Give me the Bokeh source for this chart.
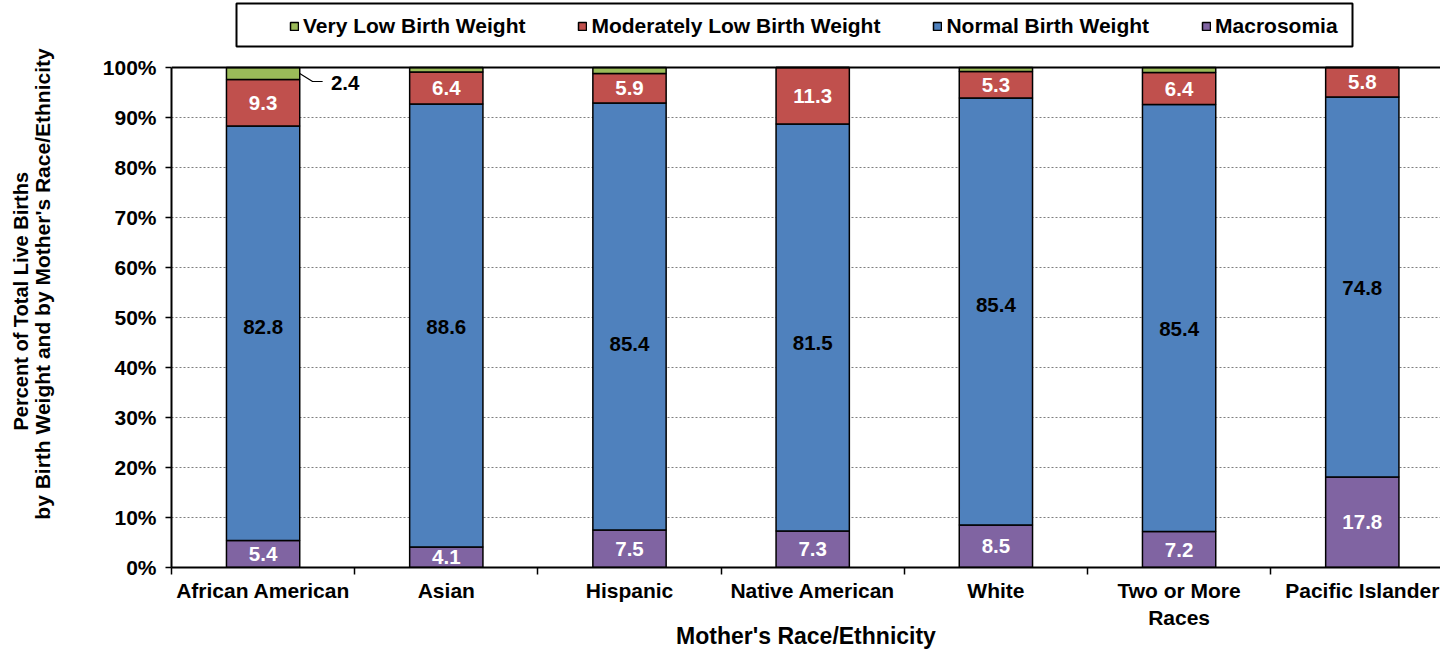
from bokeh.plotting import figure
from bokeh.models import (ColumnDataSource, FixedTicker, Range1d, Legend, LegendItem,
                          PrintfTickFormatter, Title, Span, BoxAnnotation)
from bokeh.core.properties import value
from bokeh.embed import file_html
from bokeh.resources import INLINE

# ---- data ----
categories = ["African American", "Asian", "Hispanic", "Native American",
              "White", "Two or More\nRaces", "Pacific Islander"]
macrosomia = [5.4, 4.1, 7.5, 7.3, 8.5, 7.2, 17.8]
normal_bw = [82.8, 88.6, 85.4, 81.5, 85.4, 85.4, 74.8]
moderately_low = [9.3, 6.4, 5.9, 11.3, 5.3, 6.4, 5.8]
very_low = [2.4, 0.9, 1.2, 0.0, 0.8, 1.0, 0.0]
series_names = ["Macrosomia", "Normal Birth Weight", "Moderately Low Birth Weight", "Very Low Birth Weight"]
y_ticks = [0, 10, 20, 30, 40, 50, 60, 70, 80, 90, 100]
y_title_lines = ["Percent of Total Live Births", "by Birth Weight and by Mother's Race/Ethnicity"]
x_title = "Mother's Race/Ethnicity"

# ---- style / layout ----
colors = ["#8064A2", "#4F81BD", "#C0504D", "#9BBB59"]
label_colors = ["white", "black", "white", None]
# hand-placed heights (in %) of the labels inside the blue segments, as in the original
normal_label_pos = [48.2, 48.2, 44.8, 45.0, 52.6, 47.8, 56.0]
FONT = "Liberation Sans"
W, H = 1440, 652
LEFT = 171
BOTTOM = 85
FRAME_H = H - BOTTOM
PX_PER_PCT = 5.0
CAT_PX = 183.2
BAR_W = 0.4
Y_TOP = FRAME_H / PX_PER_PCT   # headroom above 100% holds the legend strip

series = [macrosomia, normal_bw, moderately_low, very_low]
n = len(categories)
xs = [i + 0.5 for i in range(n)]
totals = [sum(s[i] for s in series) for i in range(n)]

x_end = (W - LEFT) / CAT_PX
p = figure(width=W, height=H, x_range=Range1d(0, x_end), y_range=Range1d(0, Y_TOP),
           output_backend="svg", toolbar_location=None,
           min_border_left=LEFT, min_border_right=0, min_border_top=0, min_border_bottom=BOTTOM)
p.outline_line_color = None
p.xgrid.visible = False
p.ygrid.grid_line_color = "#7f7f7f"
p.ygrid.grid_line_dash = "2 2"
p.ygrid.grid_line_width = 1
p.ygrid.ticker = FixedTicker(ticks=y_ticks)
p.add_layout(Span(location=y_ticks[-1], dimension="width", line_color="black", line_width=2))

renderers = {}
bottoms = [0.0] * n
for k, (name, vals) in enumerate(zip(series_names, series)):
    hts = [vals[i] / totals[i] * 100 for i in range(n)]
    tops = [bottoms[i] + hts[i] for i in range(n)]
    mids = [(bottoms[i] + tops[i]) / 2 for i in range(n)]
    if name == "Normal Birth Weight":
        mids = list(normal_label_pos)
    src = ColumnDataSource(dict(x=xs, bottom=list(bottoms), top=tops, mid=mids,
                                txt=[f"{v:.1f}" for v in vals], v=vals))
    r = p.vbar(x="x", width=BAR_W, bottom="bottom", top="top", source=src,
               fill_color=colors[k], line_color="black", line_width=1.5)
    renderers[name] = r
    if label_colors[k] is not None:
        p.text(x="x", y="mid", text="txt", source=src, text_align="center",
               text_baseline="middle", text_color=label_colors[k],
               text_font=value(FONT), text_font_style="bold", text_font_size="20.5px")
    else:
        gy = (bottoms[0] + tops[0]) / 2
        bx = xs[0] + BAR_W / 2
        p.line(x=[bx, bx + 0.07, bx + 0.125], y=[gy, gy - 1.6, gy - 1.6],
               line_color="black", line_width=1.2)
        p.text(x=[bx + 0.17], y=[gy - 1.8], text=[f"{vals[0]:.1f}"], text_align="left",
               text_baseline="middle", text_color="black",
               text_font=value(FONT), text_font_style="bold", text_font_size="20.5px")
    bottoms = tops

# ---- axes ----
xa = p.xaxis[0]
xa.ticker = FixedTicker(ticks=xs, minor_ticks=list(range(n + 1)))
xa.major_label_overrides = {x: c for x, c in zip(xs, categories)}
xa.major_tick_out = 0
xa.major_tick_in = 0
xa.minor_tick_out = 7
xa.minor_tick_in = 0
xa.minor_tick_line_color = "black"
xa.minor_tick_line_width = 1.5
xa.axis_line_width = 2
xa.axis_line_color = "black"
xa.major_label_text_font = FONT
xa.major_label_text_font_style = "bold"
xa.major_label_text_font_size = "21px"
xa.major_label_text_color = "black"
xa.major_label_standoff = 4
xa.axis_label = x_title
xa.axis_label_text_font = FONT
xa.axis_label_text_font_style = "bold"
xa.axis_label_text_font_size = "23px"
xa.axis_label_text_color = "black"
xa.axis_label_standoff = -9

ya = p.yaxis[0]
ya.ticker = FixedTicker(ticks=y_ticks, minor_ticks=[])
ya.bounds = (y_ticks[0], y_ticks[-1])
ya.formatter = PrintfTickFormatter(format="%d%%")
ya.major_tick_out = 6
ya.major_tick_in = 0
ya.major_tick_line_width = 1.5
ya.axis_line_width = 2
ya.axis_line_color = "black"
ya.major_label_text_font = FONT
ya.major_label_text_font_style = "bold"
ya.major_label_text_font_size = "21px"
ya.major_label_text_color = "black"
ya.major_label_standoff = 9
ya.axis_label = y_title_lines[1]
ya.axis_label_text_font = FONT
ya.axis_label_text_font_style = "bold"
ya.axis_label_text_font_size = "21px"
ya.axis_label_text_color = "black"
ya.axis_label_standoff = 46

t1 = Title(text=y_title_lines[0], align="left", offset=137, text_font=FONT,
           text_font_style="bold", text_font_size="20px", text_color="black", standoff=0)
try:
    t1.standoff = -8
except Exception:
    pass
p.add_layout(t1, "left")

# ---- legend (inside the headroom strip above 100%) ----
order = ["Very Low Birth Weight", "Moderately Low Birth Weight", "Normal Birth Weight", "Macrosomia"]
LEG_PAD = 6
legend = Legend(items=[LegendItem(label=nm, renderers=[renderers[nm]]) for nm in order],
                orientation="horizontal",
                location=(296 - 172 - LEG_PAD, FRAME_H - 38))
legend.label_text_font = FONT
legend.label_text_font_style = "bold"
legend.label_text_font_size = "21px"
legend.label_text_color = "black"
legend.glyph_width = 10
legend.glyph_height = 10
legend.label_standoff = 4
legend.spacing = 52
legend.padding = LEG_PAD
legend.margin = 0
legend.border_line_color = None
legend.background_fill_alpha = 0
p.add_layout(legend)
p.add_layout(BoxAnnotation(left=237 - 172, right=1353 - 172, top=FRAME_H - 3, bottom=FRAME_H - 46,
                           left_units="screen", right_units="screen", top_units="screen",
                           bottom_units="screen", fill_alpha=0, line_color="black",
                           line_alpha=1.0, line_width=2))

open("out.html", "w").write(file_html(p, INLINE))
